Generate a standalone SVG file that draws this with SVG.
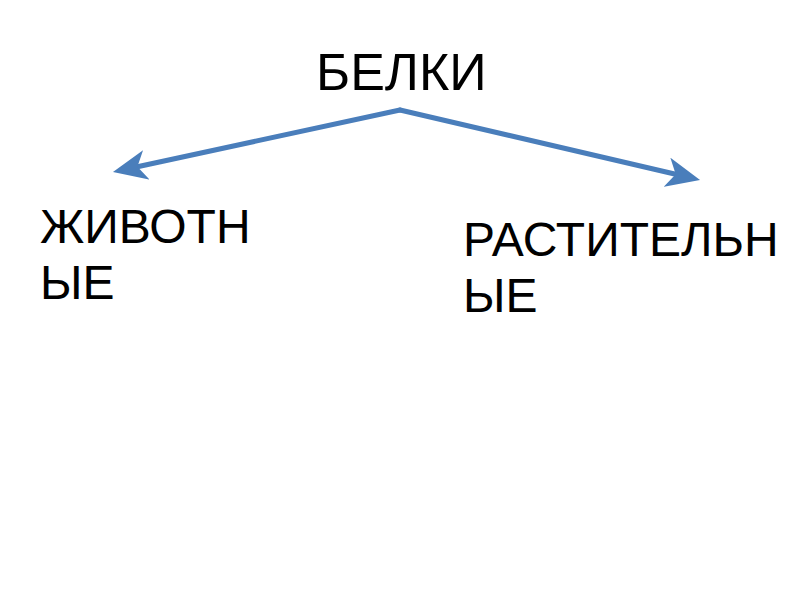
<svg xmlns="http://www.w3.org/2000/svg" width="800" height="600" viewBox="0 0 800 600">
  <defs>
    <style>
      .lbl { font-family: "Liberation Sans", Arial, sans-serif; fill: #000000; }
      .title { font-size: 52px; }
      .sub { font-size: 48px; }
      .conn { stroke: #4A7EBB; stroke-width: 5; fill: none; stroke-linecap: round; }
    </style>
    <marker id="arrow" markerUnits="userSpaceOnUse" viewBox="0 0 34 30" markerWidth="34" markerHeight="30" refX="9" refY="15" orient="auto">
      <path d="M0,0 L34,15 L0,30 L9,15 z" fill="#4A7EBB"/>
    </marker>
  </defs>
  <rect x="0" y="0" width="800" height="600" fill="#ffffff"/>
  <g id="connectors">
    <line class="conn" x1="400" y1="110" x2="137.4" y2="166.7" marker-end="url(#arrow)"/>
    <line class="conn" x1="400" y1="110" x2="675.7" y2="174.3" marker-end="url(#arrow)"/>
  </g>
  <g id="node-belki">
    <text class="lbl title" x="316" y="90">БЕЛКИ</text>
  </g>
  <g id="node-zhivotnye">
    <text class="lbl sub" x="40" y="243">ЖИВОТН</text>
    <text class="lbl sub" x="40" y="299">ЫЕ</text>
  </g>
  <g id="node-rastitelnye">
    <text class="lbl sub" x="463" y="256">РАСТИТЕЛЬН</text>
    <text class="lbl sub" x="463" y="312">ЫЕ</text>
  </g>
</svg>
